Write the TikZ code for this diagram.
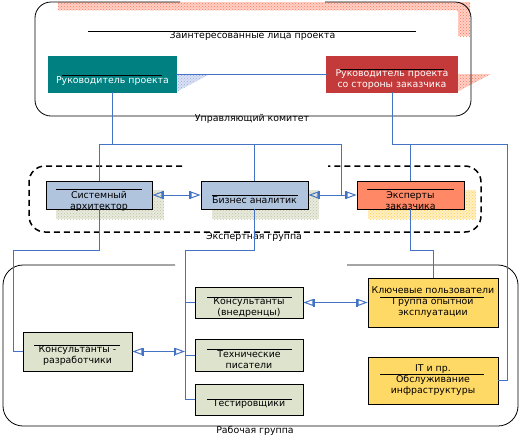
\documentclass[tikz,border=0pt]{standalone}
\usepackage{fontspec}
\setmainfont{DejaVu Sans}
\usepackage{tikz}
\usetikzlibrary{arrows.meta,patterns,positioning}
\definecolor{linkblue}{RGB}{68,114,196}
\definecolor{pmteal}{RGB}{0,128,128}
\definecolor{cpmred}{RGB}{196,58,58}
\definecolor{lblue}{RGB}{176,196,222}
\definecolor{salmon}{RGB}{255,136,102}
\definecolor{sage}{RGB}{222,227,205}
\definecolor{gold}{RGB}{255,217,102}
\definecolor{shred}{RGB}{255,120,90}
\definecolor{shblue}{RGB}{150,170,225}
\definecolor{shkhaki}{RGB}{190,196,160}
\definecolor{shgold}{RGB}{255,210,80}

\begin{document}
\begin{tikzpicture}[x=1pt,y=-1pt,
                box/.style={draw=black,line width=0.8pt,inner sep=0pt},
                dbox/.style={box,double distance=1.2pt},
                txt/.style={align=center,inner sep=0pt,font=\fontsize{9.4}{11}\selectfont},
                divline/.style={draw=black,line width=0.8pt},
                group/.style={draw=black,line width=0.8pt,rounded corners=16},
                link/.style={draw=linkblue,line width=1pt},
                twoway/.style={{Triangle[open,length=10pt,width=7pt,sep=0pt]Bar[width=8pt,line width=1.5pt]}-{Bar[width=8pt,line width=1.5pt]Triangle[open,length=10pt,width=7pt,sep=0pt]}},
                shade/.style={preaction={fill=#1!35},pattern=crosshatch dots,pattern color=#1}
            ]
                \useasboundingbox (0,0) rectangle (520,437);
% shadows
                \fill[shade=shred] (58,2) rectangle (470,10);
                \fill[shade=shred] (457,2) rectangle (470,36);
                \fill[shade=shblue] (176,74) -- (210,74) -- (176,92) -- cycle;
                \fill[shade=shred] (457,74) -- (491,74) -- (457,92) -- cycle;
                \fill[shade=shkhaki] (56,190) rectangle (164,219);
                \fill[shade=shkhaki] (212,190) rectangle (319,219);
                \fill[shade=shgold] (368,190) rectangle (476,219);

% groups
                \draw[group] (180,2) -- (35,2) -- (35,116) -- (471,116) -- (471,2) -- (325,2);
                \draw[group,line width=1.5pt,dash pattern=on 6pt off 4pt] (182,166) -- (29,166) -- (29,232) -- (481,232) -- (481,166) -- (328,166);
                \draw[group,rounded corners=20] (175,265) -- (3,265) -- (3,426) -- (518,426) -- (518,265) -- (347,265);
                \node[txt] (scLbl) at (252,119) {Управляющий комитет};
                \node[txt] (egLbl) at (254,237) {Экспертная группа};
                \node[txt] (wgLbl) at (255,431) {Рабочая группа};

% boxes
                \node[dbox,fill=white,double=white,minimum width=409,minimum height=34] (stake) at (252.5,30) {};
                \node[dbox,fill=pmteal,double=pmteal,minimum width=127,minimum height=35] (pm) at (112.5,74.5) {};
                \node[dbox,fill=cpmred,double=cpmred,minimum width=130,minimum height=35] (cpm) at (392,74.5) {};
                \node[box,fill=lblue,minimum width=106,minimum height=28] (arch) at (99,195) {};
                \node[box,fill=lblue,minimum width=107,minimum height=28] (ba) at (254.5,195) {};
                \node[box,fill=salmon,minimum width=107,minimum height=28] (exp) at (410.5,195) {};
                \node[box,fill=sage,minimum width=109,minimum height=39] (dev) at (77.5,351.5) {};
                \node[box,fill=sage,minimum width=108,minimum height=31] (cons) at (249,302.5) {};
                \node[box,fill=sage,minimum width=108,minimum height=32] (tw) at (249,355) {};
                \node[box,fill=sage,minimum width=108,minimum height=31] (test) at (249,399.5) {};
                \node[box,fill=gold,minimum width=130,minimum height=49] (key) at (433,302.5) {};
                \node[box,fill=gold,minimum width=130,minimum height=47] (it) at (433,380.5) {};

% connectors
                \coordinate (topL) at (99,144);
                \coordinate (topR) at (341,144);
                \coordinate (rBus) at (507,144);
                \coordinate (devBus) at (13,250);
                \coordinate (wrkBus) at (185,250);
                \coordinate (keyBus) at (433,250);
                \draw[link] (pm) -- (cpm);
                \draw[link] (pm.south) -- (pm.south |- topL);
                \draw[link] (arch.north) -- (topL) -- (topR) -- (topR |- exp.west);
                \draw[link] (ba.north) -- (ba.north |- topL);
                \draw[link] (cpm.south) |- (rBus) |- (it.east);
                \draw[link] (exp.north) -- (exp.north |- rBus);
                \draw[link] (exp.south) |- (keyBus) -- (key.north);
                \draw[link] (arch.south) |- (devBus) |- (dev.west);
                \draw[link] (ba.south) |- (wrkBus) |- (test.west);
                \foreach \n in {cons,tw}
                    \draw[link] (wrkBus |- \n.west) -- (\n.west);
                \draw[link,twoway] (arch) -- (ba);
                \draw[link,twoway] (ba) -- (exp);
                \draw[link,twoway] (cons) -- (key);
                \draw[link,twoway] (dev) -- (wrkBus |- dev.east);

% texts and dividers
                \draw[divline] (88,31) -- (416,31);
                \node[txt] (stakeT) at (252.5,35.5) {Заинтересованные лица проекта};
                \draw[divline] (62,75) -- (162,75);
                \node[txt,text=white] (pmT) at (112.5,81.5) {Руководитель проекта};
                \draw[divline] (337,69) -- (444,69);
                \node[txt,text=white] (cpmT) at (392,80) {Руководитель проекта\\со стороны заказчика};
                \draw[divline] (56,189) -- (142,189);
                \node[txt] (archT) at (99,201) {Системный\\архитектор};
                \draw[divline] (212,195) -- (298,195);
                \node[txt] (baT) at (254.5,200.5) {Бизнес аналитик};
                \draw[divline] (367,189) -- (454,189);
                \node[txt] (expT) at (410.5,201) {Эксперты\\заказчика};
                \draw[divline] (34,345) -- (120,345);
                \node[txt] (devT) at (77.5,356) {Консультанты -\\разработчики};
                \draw[divline] (207,297) -- (292,297);
                \node[txt] (consT) at (249,307.5) {Консультанты\\(внедренцы)};
                \draw[divline] (207,349) -- (292,349);
                \node[txt] (twT) at (249,360) {Технические\\писатели};
                \draw[divline] (207,399) -- (292,399);
                \node[txt] (testT) at (249,404.5) {Тестировщики};
                \draw[divline] (380,297) -- (484,297);
                \node[txt] (keyT) at (433,302.5) {Ключевые пользователи\\Группа опытной\\эксплуатации};
                \draw[divline] (380,374) -- (484,374);
                \node[txt] (itT) at (433,380) {IT и пр.\\Обслуживание\\инфраструктуры};

            \end{tikzpicture}
\end{document}
